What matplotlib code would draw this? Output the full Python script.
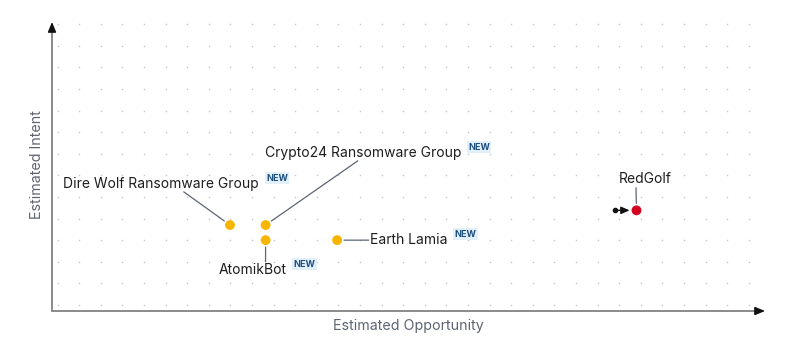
import numpy as np
import matplotlib.pyplot as plt

plt.rcParams['font.family'] = ['Inter', 'DejaVu Sans']

# === data (grid units) ===
names = ['Dire Wolf Ransomware Group', 'Crypto24 Ransomware Group', 'AtomikBot',
         'Earth Lamia', 'RedGolf']
opportunity = [7.98, 9.63, 9.63, 12.94, 26.8]
intent = [3.7, 3.7, 3.0, 3.0, 4.38]
is_new = [True, True, True, True, False]
colors = ['#f8b500', '#f8b500', '#f8b500', '#f8b500', '#d4001f']
prev_opportunity = {'RedGolf': 25.8}

# label placement: (offset px, ha, va, leader anchor on label bbox)
label_pos = {
    'Dire Wolf Ransomware Group': ((29, 41), 'right', 'center', (0.61, 0.0)),
    'Crypto24 Ransomware Group': ((-1, 72), 'left', 'center', (0.48, 0.0)),
    'AtomikBot': ((-13, -30), 'center', 'center', (0.69, 1.0)),
    'Earth Lamia': ((33, 0), 'left', 'center', (0.0, 0.5)),
    'RedGolf': ((9, 31), 'center', 'center', (0.32, 0.0)),
}

fig = plt.figure(figsize=(7.99, 3.53), dpi=100)
ax = fig.add_axes([52 / 799, 1 - 311 / 353, (765 - 52) / 799, (311 - 22) / 353])
ax.set_xlim(-0.26, 32.75)
ax.set_ylim(-0.28, 13.1)
for s in ax.spines.values():
    s.set_visible(False)
ax.set_xticks([])
ax.set_yticks([])

# dotted background grid
gx, gy = np.meshgrid(np.arange(0, 33), np.arange(0, 14))
ax.scatter(gx.ravel(), gy.ravel(), s=1.3, color='#c8c8c8', linewidths=0, zorder=1)

# axes: grey line, black arrowhead
line_kw = dict(arrowstyle='-', color='#8a8a8a', lw=1.4, shrinkA=0, shrinkB=4)
head_kw = dict(arrowstyle='-|>,head_length=0.6,head_width=0.25', color='#111111',
               lw=1.0, shrinkA=0, shrinkB=0)
ax.annotate('', xy=(1, 0), xytext=(0, 0), xycoords='axes fraction', arrowprops=line_kw)
ax.annotate('', xy=(0, 1), xytext=(0, 0), xycoords='axes fraction', arrowprops=line_kw)
ax.annotate('', xy=(1, 0), xytext=(-8, 0), xycoords='axes fraction',
            textcoords='offset pixels', arrowprops=head_kw)
ax.annotate('', xy=(0, 1), xytext=(0, -8), xycoords='axes fraction',
            textcoords='offset pixels', arrowprops=head_kw)
fig.text(408 / 799, 1 - 326 / 353, 'Estimated Opportunity', ha='center', va='center',
         fontsize=10.3, color='#5d6573')
fig.text(37 / 799, 1 - 165 / 353, 'Estimated Intent', ha='center', va='center',
         rotation=90, fontsize=10.3, color='#5d6573')

# movement arrow
for name, px in prev_opportunity.items():
    i = names.index(name)
    ax.annotate('', xy=(opportunity[i], intent[i]), xytext=(px, intent[i]),
                arrowprops=dict(arrowstyle='-|>,head_length=0.5,head_width=0.22',
                                color='#111111', lw=1.0, shrinkA=0, shrinkB=5), zorder=3)
    ax.plot(px, intent[i], 'o', color='#111111', ms=3, zorder=3)

ax.scatter(opportunity, intent, s=50, c=colors, linewidths=0, zorder=4)

for i, name in enumerate(names):
    off, ha, va, rel = label_pos[name]
    lab = ax.annotate(name, xy=(opportunity[i], intent[i]), xytext=off,
                      textcoords='offset pixels', ha=ha, va=va, fontsize=10,
                      color='#1e1e1e', zorder=5)
    ax.annotate('', xy=(opportunity[i], intent[i]), xytext=rel, textcoords=lab,
                arrowprops=dict(arrowstyle='-', color='#5d6573', lw=0.9,
                                shrinkA=1, shrinkB=5), zorder=2)
    if is_new[i]:
        ax.annotate('NEW', xy=(1, 0.5), xycoords=lab, xytext=(7, 6),
                    textcoords='offset pixels', ha='left', va='center', fontsize=6.5,
                    fontweight='bold', color='#1d4f7c', zorder=5,
                    bbox=dict(boxstyle='square,pad=0.15', fc='#e2f0fb', ec='none'))

fig.savefig('out.png', dpi=100)
